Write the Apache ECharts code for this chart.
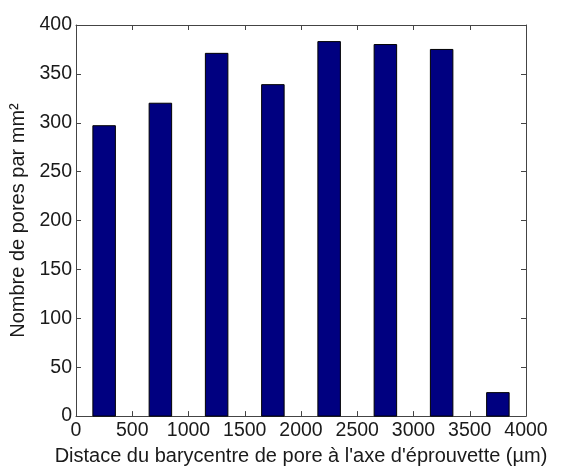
<!DOCTYPE html>
<html><head><meta charset="utf-8">
<script src="https://cdn.jsdelivr.net/npm/echarts@6/dist/echarts.min.js"></script>
</head><body style="margin:0;background:#fff">
<div id="c" style="width:563px;height:471px"></div>
<script>
const binCenters = [250, 750, 1250, 1750, 2250, 2750, 3250, 3750];
const poreCounts = [297, 320, 371, 339, 383, 380, 375, 24];
const binWidth = 200;
const xTitle = "Distace du barycentre de pore à l'axe d'éprouvette (µm)";
const yTitle = "Nombre de pores par mm²";

const FONT = 'Liberation Sans';
const TXT = '#1a1a1a';
const LINE = '#444';

const chart = echarts.init(document.getElementById('c'), null, {renderer: 'canvas'});
const lbl = {color: TXT, fontFamily: FONT, fontSize: 19.5, formatter: v => String(v)};
const nameStyle = {color: TXT, fontFamily: FONT, fontSize: 20};
const baseX = {type: 'value', min: 0, max: 4000, interval: 500, splitLine: {show: false},
  axisLine: {show: true, onZero: false, lineStyle: {color: LINE, width: 1}},
  axisTick: {show: true, inside: true, length: 5, lineStyle: {color: LINE}}};
const baseY = {type: 'value', min: 0, max: 400, interval: 50, splitLine: {show: false},
  axisLine: {show: true, onZero: false, lineStyle: {color: LINE, width: 1}},
  axisTick: {show: true, inside: true, length: 5, lineStyle: {color: LINE}}};

chart.setOption({
  animation: false,
  backgroundColor: '#fff',
  grid: {left: 76, top: 25, width: 450, height: 400},
  xAxis: [
    Object.assign({}, baseX, {position: 'bottom', axisLabel: Object.assign({margin: 5}, lbl),
      name: xTitle, nameLocation: 'middle', nameGap: 28, nameTextStyle: nameStyle}),
    Object.assign({}, baseX, {position: 'top', axisLabel: {show: false}})
  ],
  yAxis: [
    Object.assign({}, baseY, {position: 'left', axisLabel: Object.assign({margin: 4}, lbl),
      name: yTitle, nameLocation: 'middle', nameGap: 44, nameTextStyle: nameStyle}),
    Object.assign({}, baseY, {position: 'right', axisLabel: {show: false}})
  ],
  series: [{
    type: 'custom',
    xAxisIndex: 0, yAxisIndex: 0,
    data: binCenters.map((x, i) => [x, poreCounts[i]]),
    encode: {x: 0, y: 1},
    renderItem: function (params, api) {
      const x = api.value(0), y = api.value(1);
      const p0 = api.coord([x - binWidth / 2, y]);
      const p1 = api.coord([x + binWidth / 2, 0]);
      return {type: 'rect',
        shape: {x: p0[0], y: p0[1], width: p1[0] - p0[0], height: p1[1] - p0[1]},
        style: {fill: '#000080', stroke: '#000', lineWidth: 1}};
    }
  }]
});
</script>
</body></html>
